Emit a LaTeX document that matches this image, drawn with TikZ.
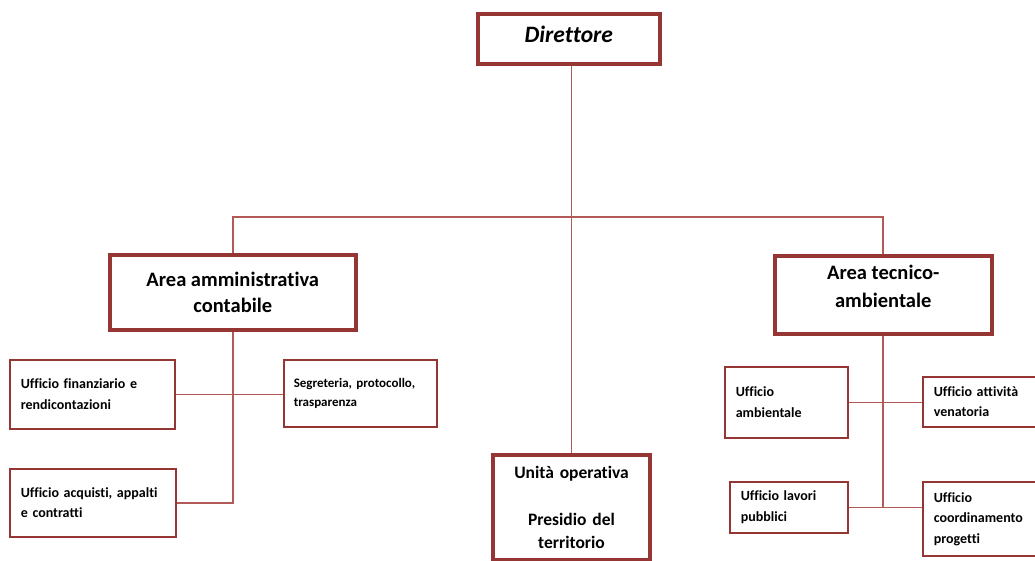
\documentclass[tikz,border=0pt]{standalone}
\usepackage{fontspec}
\setmainfont{Carlito}[Ligatures=NoCommon]
\definecolor{boxred}{HTML}{963634}
\definecolor{linkred}{HTML}{B25A58}
\begin{document}
\begin{tikzpicture}[x=1pt,y=-1pt,
    capo/.style={draw=boxred, line width=3.5pt, align=center, font=\bfseries\fontsize{20.5}{25.5}\selectfont},
    ufficio/.style={draw=boxred, line width=1.6pt, align=left, inner xsep=11pt, font=\bfseries\fontsize{14}{20.5}\selectfont},
    link/.style={draw=linkred, line width=1.6pt}]
    \useasboundingbox (0,0) rectangle (1035,560);
    \clip (0,0) rectangle (1035,560);

    % vertice
    \node[capo, anchor=north west, minimum width=182, minimum height=50, text depth=9pt, font=\bfseries\itshape\fontsize{23.5}{28}\selectfont] (dir) at (476,12) {Direttore};

    % aree
    \node[capo, anchor=north west, minimum width=246, minimum height=75] (aac) at (108,253) {Area amministrativa\\contabile};
    \node[capo, anchor=north west, minimum width=217, minimum height=78, text depth=16pt, font=\bfseries\fontsize{20.5}{28}\selectfont] (atc) at (773,254) {Area tecnico-\\ambientale};
    \node[capo, anchor=north, text width=150, inner ysep=11pt, font=\bfseries\fontsize{17.5}{23.5}\selectfont] (uo) at (571.5,453) {Unità operativa\\[23.5pt]Presidio del\\territorio\\[30pt]};

    % uffici area amministrativa
    \node[ufficio, anchor=north west, text width=143, minimum height=69] (fin) at (9,359) {Ufficio finanziario e\\rendicontazioni};
    \node[ufficio, anchor=north west, text width=133, inner xsep=10pt, minimum height=67, font=\bfseries\fontsize{13}{19}\selectfont] (seg) at (283,359) {Segreteria, protocollo,\\trasparenza};
    \node[ufficio, anchor=north west, text width=144, minimum height=68] (acq) at (9,468) {Ufficio acquisti, appalti\\e contratti};

    % uffici area tecnica
    \node[ufficio, anchor=north west, text width=101, minimum height=71] (amb) at (724,366) {Ufficio\\ambientale};
    \node[ufficio, anchor=north west, text width=110, minimum height=50] (ven) at (922,376) {Ufficio attività\\venatoria};
    \node[ufficio, anchor=north west, text width=96, minimum height=51] (lp) at (729,481) {Ufficio lavori\\pubblici};
    \node[ufficio, anchor=north west, text width=110, minimum height=74] (cp) at (922,481) {Ufficio\\coordinamento\\progetti};

    % collegamenti
    \coordinate (bar) at (571.5,217);
    \draw[link] (dir.south -| uo.north) -- (uo.north);
    \draw[link] (aac.north) |- (bar) -| (atc.north);
    \draw[link] (aac.south) |- (acq.east);
    \draw[link] (fin.east) -- (fin.east -| seg.west);
    \draw[link] (atc.south) |- (lp.east);
    \draw[link] (lp.east) -- (lp.east -| cp.west);
    \draw[link] (amb.east) -- (amb.east -| ven.west);
\end{tikzpicture}
\end{document}
